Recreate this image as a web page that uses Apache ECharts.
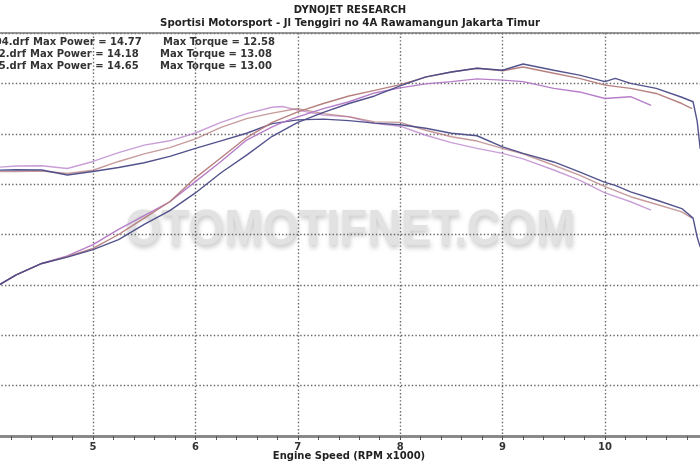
<!DOCTYPE html>
<html>
<head>
<meta charset="utf-8">
<script src="https://cdn.jsdelivr.net/npm/echarts@6/dist/echarts.min.js"></script>
<style>
html,body{margin:0;padding:0;background:#fff;}
#chart{width:700px;height:465px;}
</style>
</head>
<body>
<div id="chart"></div>
<script>
var titleText = 'DYNOJET RESEARCH';
var subtitleText = 'Sportisi Motorsport - Jl Tenggiri no 4A Rawamangun Jakarta Timur';
var xAxisName = 'Engine Speed (RPM x1000)';

var runNames = ['04.drf', '2.drf', '5.drf'];
var maxPower = ['14.77', '14.18', '14.65'];
var maxTorque = ['12.58', '13.08', '13.00'];

// Run 04 (dark blue)
var rpmA = [4.0,4.25,4.5,4.75,5.0,5.25,5.5,5.75,6.0,6.25,6.5,6.75,7.0,7.25,7.5,7.75,8.0,8.25,8.5,8.75,9.0,9.2,9.5,9.75,10.0,10.1,10.25,10.5,10.75,10.86,10.9,10.93];
var powerA = [5.8,6.4,6.85,7.1,7.4,7.8,8.4,8.95,9.65,10.45,11.15,11.9,12.45,12.85,13.2,13.5,13.9,14.26,14.45,14.6,14.52,14.77,14.52,14.33,14.07,14.2,14.0,13.8,13.45,13.27,12.5,11.4];
var torqueA = [10.55,10.57,10.56,10.36,10.5,10.66,10.85,11.1,11.42,11.72,12.02,12.4,12.55,12.58,12.52,12.42,12.36,12.22,12.02,11.92,11.48,11.22,10.88,10.49,10.07,9.95,9.69,9.37,9.03,8.65,7.9,7.5];

// Run 2 (violet)
var rpmB = [4.0,4.25,4.5,4.75,5.0,5.25,5.5,5.75,6.0,6.25,6.5,6.75,6.85,7.0,7.25,7.5,7.75,8.0,8.25,8.5,8.75,9.0,9.2,9.5,9.75,10.0,10.25,10.45];
var powerB = [5.8,6.4,6.85,7.15,7.6,8.2,8.75,9.3,10.1,10.9,11.75,12.27,12.45,12.67,13.0,13.27,13.62,13.82,13.98,14.07,14.18,14.13,14.07,13.8,13.66,13.4,13.47,13.13];
var torqueB = [10.65,10.72,10.73,10.62,10.9,11.25,11.55,11.72,12.03,12.45,12.8,13.05,13.08,12.94,12.74,12.67,12.41,12.3,11.94,11.65,11.42,11.22,11.0,10.56,10.16,9.65,9.3,8.97];

// Run 5 (dusty red)
var rpmC = [4.0,4.25,4.5,4.75,5.0,5.25,5.5,5.75,6.0,6.25,6.5,6.75,7.0,7.25,7.5,7.75,8.0,8.25,8.5,8.75,9.0,9.2,9.5,9.75,10.0,10.25,10.5,10.75,10.85];
var powerC = [5.8,6.4,6.85,7.12,7.45,8.0,8.65,9.3,10.25,11.05,11.85,12.45,12.87,13.2,13.5,13.72,13.95,14.25,14.45,14.6,14.5,14.65,14.4,14.2,13.93,13.8,13.6,13.2,13.0];
var torqueC = [10.5,10.5,10.52,10.42,10.55,10.9,11.2,11.45,11.8,12.25,12.6,12.82,13.0,12.8,12.68,12.47,12.45,12.14,11.88,11.71,11.42,11.2,10.75,10.36,9.9,9.5,9.2,8.9,8.65];

var watermarkText = 'OTOMOTIFNET.COM';

// ---- Build ----
function pairs(xs, ys){ return xs.map(function(x,i){ return [x, ys[i]]; }); }

var colA = '#4a4a88', colB = '#b276c6', colC = '#b47a7a';
var FONT = 'DejaVu Sans';

function line(name, data, color, opacity){
  return {
    name: name, type: 'line', data: data, showSymbol: false, symbol: 'none',
    lineStyle: {color: color, width: 1.4, opacity: opacity},
    z: 3, animation: false
  };
}

var dotted = {color: '#666', width: 1.4, type: [1.4, 2.2]};

var legendGraphics = [];
var legX1 = [33, 30, 30], legX2 = [163, 160, 160];
for (var i = 0; i < runNames.length; i++) {
  var yy = 42 + 12 * i;
  var ts = {fill: '#333', font: 'bold 10px "' + FONT + '"', textVerticalAlign: 'middle'};
  legendGraphics.push({type: 'text', x: legX1[i] - 4, y: yy, z: 10,
    style: Object.assign({}, ts, {text: runNames[i], textAlign: 'right'})});
  legendGraphics.push({type: 'text', x: legX1[i], y: yy, z: 10,
    style: Object.assign({}, ts, {text: 'Max Power = ' + maxPower[i], textAlign: 'left'})});
  legendGraphics.push({type: 'text', x: legX2[i], y: yy, z: 10,
    style: Object.assign({}, ts, {text: 'Max Torque = ' + maxTorque[i], textAlign: 'left'})});
}

var chart = echarts.init(document.getElementById('chart'), null, {renderer: 'canvas'});
chart.setOption({
  backgroundColor: '#fff',
  animation: false,
  title: {
    text: titleText, subtext: subtitleText, left: 'center', top: 0, itemGap: 3,
    textStyle: {fontFamily: FONT, fontSize: 10, fontWeight: 'bold', color: '#222'},
    subtextStyle: {fontFamily: FONT, fontSize: 10.2, fontWeight: 'bold', color: '#222'}
  },
  grid: {left: -9.4, right: -7.4, top: 33, bottom: 29, containLabel: false, outerBoundsMode: 'none'},
  xAxis: [{
    type: 'value', min: 4, max: 11, interval: 1, offset: 2,
    name: xAxisName, nameLocation: 'middle', nameGap: 13, nameMoveOverlap: false,
    nameTextStyle: {fontFamily: FONT, fontSize: 10, fontWeight: 'bold', color: '#222'},
    axisLine: {show: true, lineStyle: {color: '#8a8a8a', width: 3}},
    axisTick: {show: true, length: 4, lineStyle: {color: '#555', width: 1}},
    minorTick: {show: true, splitNumber: 5, length: 4, lineStyle: {color: '#555', width: 1}},
    axisLabel: {fontFamily: FONT, fontSize: 10, fontWeight: 'bold', color: '#333', margin: 4},
    splitLine: {show: true, lineStyle: dotted}
  }, {
    type: 'value', position: 'top', min: 4, max: 11, interval: 1,
    axisLine: {show: true, lineStyle: {color: '#777', width: 1.5}},
    axisTick: {show: false}, axisLabel: {show: false}, splitLine: {show: false}
  }],
  yAxis: {
    type: 'value', min: 0, max: 16, interval: 2,
    axisLine: {show: false}, axisTick: {show: false}, axisLabel: {show: false},
    splitLine: {show: true, lineStyle: dotted}
  },
  graphic: [{
    type: 'text', x: 350, y: 231, z: -10, scaleX: 0.92,
    style: {
      text: watermarkText, textAlign: 'center', textVerticalAlign: 'middle',
      font: 'bold 50px "Liberation Sans"', fill: '#e2e2e2',
      textShadowColor: 'rgba(0,0,0,0.22)', textShadowBlur: 5, textShadowOffsetX: 1, textShadowOffsetY: 3
    }
  }].concat(legendGraphics),
  series: [
    line('Torque 2', pairs(rpmB, torqueB), colB, 0.7),
    line('Torque 5', pairs(rpmC, torqueC), colC, 0.75),
    line('Torque 04', pairs(rpmA, torqueA), colA, 0.95),
    line('Power 2', pairs(rpmB, powerB), colB, 0.95),
    line('Power 5', pairs(rpmC, powerC), colC, 0.95),
    line('Power 04', pairs(rpmA, powerA), colA, 0.95)
  ]
});
</script>
</body>
</html>
